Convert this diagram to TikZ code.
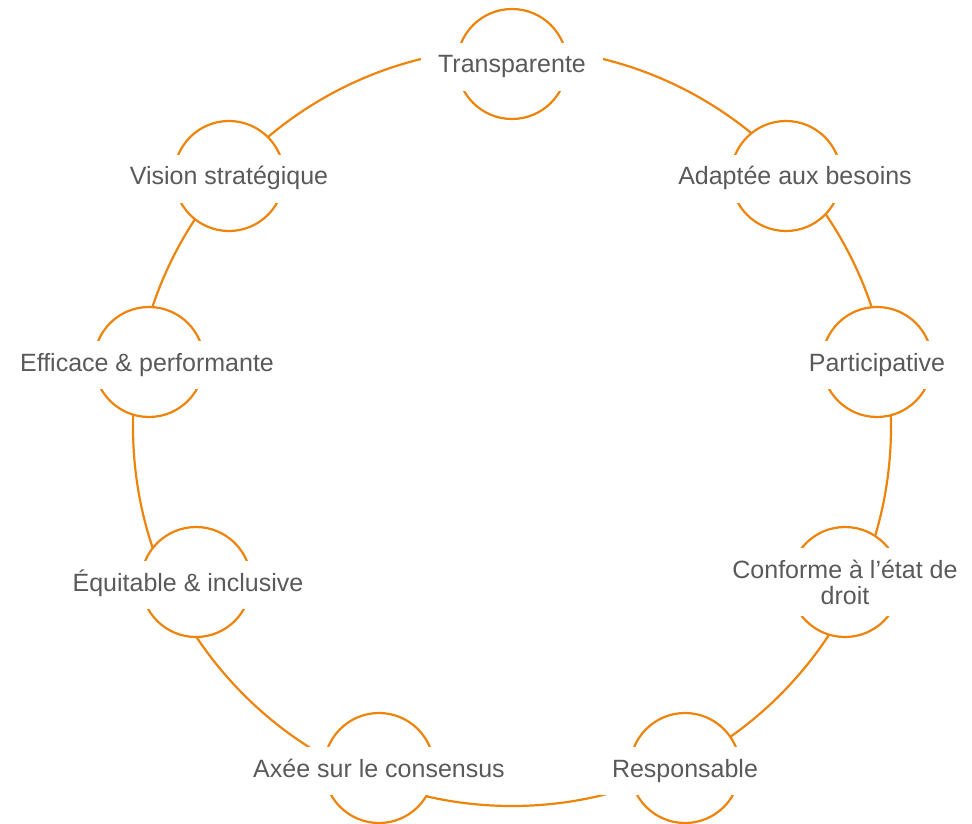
\documentclass[tikz,border=0pt]{standalone}
\usepackage{fontspec}
\setmainfont{Liberation Sans}
\usetikzlibrary{positioning}
\definecolor{ringcolor}{RGB}{238,132,12}
\definecolor{lblcolor}{RGB}{90,90,90}
\tikzset{
  ringln/.style={line width=2.2pt, ringcolor},
  hub/.style={circle, draw=ringcolor, line width=2.2pt, fill=white,
    minimum size=110pt, inner sep=0pt},
  lbl/.style={fill=white, text=lblcolor, font=\fontsize{25}{26}\selectfont,
    inner xsep=17pt, inner ysep=12pt, align=center},
  oneline/.style={text height=18pt, text depth=6pt, yshift=-3pt},
}
\begin{document}
\begin{tikzpicture}[x=1pt, y=1pt]
    \useasboundingbox (0,0) rectangle (972,-824);
    % Big ring
    \coordinate (ring) at (512,-427);
    \draw[ringln] (ring) circle (379pt);
    % Circles on the ring
    \node[hub] (trans)  at (512,-64)  {};
    \node[hub] (adapt)  at (786,-176) {};
    \node[hub] (partic) at (877,-362) {};
    \node[hub] (conf)   at (845,-582) {};
    \node[hub] (resp)   at (685,-768) {};
    \node[hub] (axee)   at (379,-768) {};
    \node[hub] (equit)  at (196,-582) {};
    \node[hub] (effic)  at (149,-362) {};
    \node[hub] (vision) at (229,-176) {};
    % Labels
    \node[lbl, oneline] (trans-l)  at (trans)  {Transparente};
    \node[lbl, oneline] (adapt-l)  at ([xshift=9pt]adapt.center) {Adaptée aux besoins};
    \node[lbl, oneline] (partic-l) at (partic) {Participative};
    \node[lbl] (conf-l) at (conf) {Conforme à l’état de\\droit};
    \node[lbl, oneline] (resp-l)   at (resp)   {Responsable};
    \node[lbl, oneline] (axee-l)   at (axee)   {Axée sur le consensus};
    \node[lbl, oneline] (equit-l)  at ([xshift=-8pt]equit.center) {Équitable \& inclusive};
    \node[lbl, oneline] (effic-l)  at ([xshift=-2pt]effic.center) {Efficace \& performante};
    \node[lbl, oneline] (vision-l) at (vision) {Vision stratégique};
\end{tikzpicture}
\end{document}
